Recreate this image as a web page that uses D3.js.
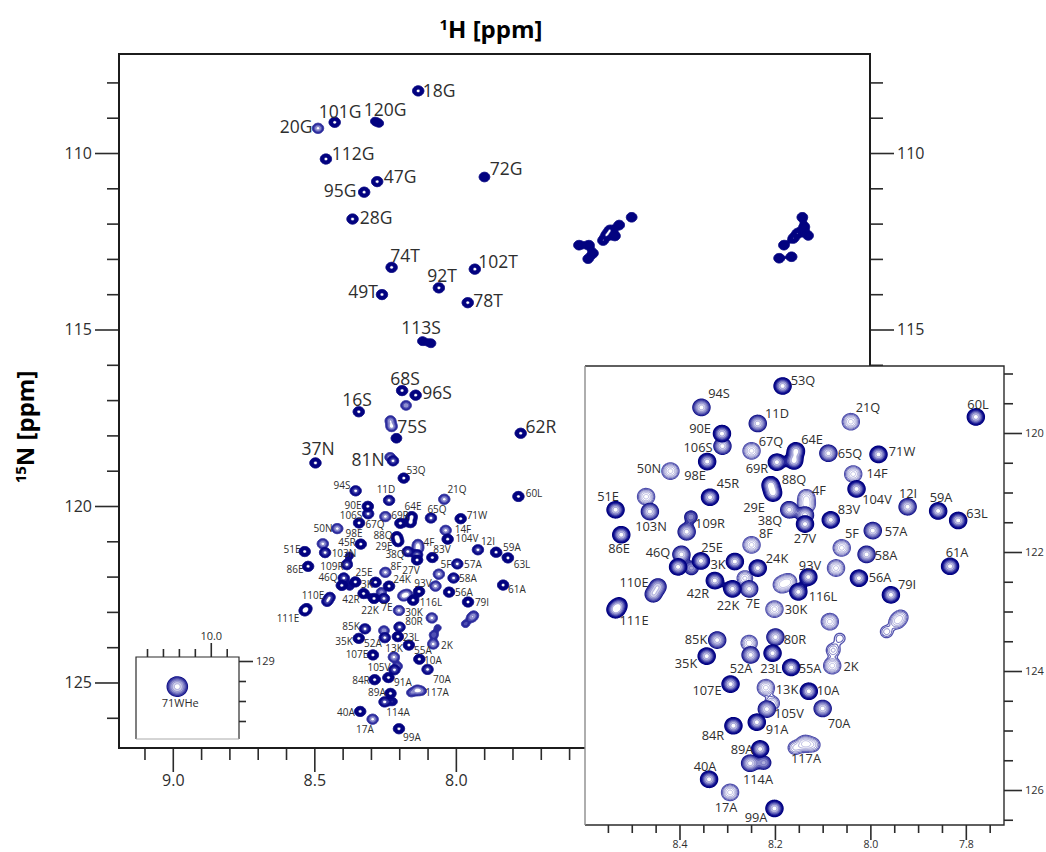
<!DOCTYPE html>
<html>
<head>
<meta charset="utf-8">
<script src="https://cdn.jsdelivr.net/npm/d3@7"></script>
<style>
body { margin: 0; background: #fff; }
svg { display: block; }
text { font-family: "Open Sans", sans-serif; fill: #2e2e2e; }
.title { font-weight: 700; fill: #000; font-size: 24px; }
</style>
</head>
<body>
<script>
/* peak table: 1H ppm, 15N ppm, relative height, contour shade (0 pale, 1 mid, 2 navy) */
var peakNames = [
  "18G","101G","120G","20G","112G","47G","95G","72G","28G","74T",
  "102T","92T","49T","78T","113S","68S","96S","16S","75S","62R",
  "37N","81N","53Q","94S","11D","90E","106S","67Q","64E","69R",
  "98E","50N","45R","88Q","38Q","29E","51E","103N","86E","4F",
  "27V","8F","109R","46Q","25E","3K","24K","42R","110E","22K",
  "7E","93V","116L","111E","30K","80R","23L","52A","85K","35K",
  "55A","2K","107E","13K","10A","105V","91A","70A","84R","117A",
  "89A","114A","40A","17A","99A","21Q","60L","65Q","71W","14F",
  "104V","12I","59A","63L","83V","57A","5F","58A","61A","56A","79I"];
var peakH = [
  8.133,8.428,8.286,8.487,8.459,8.278,8.324,7.899,8.365,8.227,
  7.933,8.060,8.261,7.958,8.118,8.190,8.142,8.343,8.210,7.771,
  8.496,8.222,8.184,8.354,8.236,8.311,8.310,8.249,8.160,8.196,
  8.342,8.419,8.336,8.209,8.204,8.170,8.534,8.462,8.522,8.134,
  8.137,8.249,8.385,8.396,8.355,8.284,8.236,8.326,8.455,8.289,
  8.254,8.130,8.151,8.534,8.201,8.199,8.205,8.251,8.321,8.343,
  8.166,8.080,8.293,8.219,8.129,8.217,8.238,8.100,8.287,8.137,
  8.231,8.252,8.338,8.294,8.201,8.041,7.779,8.088,7.983,8.036,
  8.029,7.922,7.858,7.816,8.083,7.995,8.060,8.008,7.833,8.024,7.957];
var peakN = [
  108.24,109.13,109.10,109.30,110.17,110.81,111.11,110.68,111.87,113.24,
  113.29,113.82,114.01,114.24,115.33,116.73,116.86,117.33,118.08,117.94,
  118.78,118.72,119.21,119.57,119.84,120.01,120.22,120.30,120.47,120.49,
  120.48,120.64,121.08,120.87,121.01,121.29,121.29,121.32,121.71,121.21,
  121.53,121.88,121.66,122.04,122.15,122.16,122.27,122.48,122.71,122.62,
  122.62,122.42,122.67,122.97,122.96,123.43,123.70,123.73,123.48,123.75,
  123.94,123.91,124.22,124.28,124.34,124.64,124.86,124.63,124.92,125.22,
  125.31,125.55,125.82,126.04,126.31,119.81,119.73,120.34,120.36,120.69,
  120.94,121.24,121.31,121.47,121.46,121.64,121.93,122.04,122.24,122.44,122.72];
var peakHeight = [
  1,1,.45,1,1,1,1,.8,1,1,
  1,1,1,1,.6,1,1,1,.8,1,
  1,1,1,1,1,1,1,1,1,1,
  1,1,1,1,1,1,1,1,1,1,
  1,1,1,1,1,1,1,1,.8,1,
  1,1,1,1,1,1,1,1,1,1,
  1,1,1,1,1,1,1,1,1,1,
  1,1,1,1,1,1,1,1,1,1,
  1,1,1,1,1,1,1,1,1,1,1];
var peakShade = [
  2,2,2,0,2,2,2,2,2,2,
  2,2,2,2,2,2,2,2,2,2,
  2,1,2,1,1,2,1,0,2,2,
  2,0,2,2,2,1,2,1,2,0,
  2,0,1,1,2,2,2,2,1,2,
  1,2,2,2,0,1,2,1,1,2,
  2,0,2,0,2,1,2,1,2,0,
  2,1,2,0,2,0,2,1,2,0,
  2,1,2,2,2,1,0,1,2,2,2];

/* unlabelled shoulders, tails and side-chain pairs */
var extraH = [
  8.270,8.088,8.176,8.227,8.231,8.232,8.156,8.470,8.137,8.134,
  8.376,8.403,8.375,8.445,8.263,8.172,8.186,8.254,8.078,8.064,
  8.085,7.966,7.945,7.936,8.072,8.206,8.158,8.120,8.223,8.526,
  7.379,7.423,7.456,7.438,7.480,7.468,7.565,7.530,7.515,7.533,
  6.776,6.769,6.793,6.755,6.808,6.841,6.858,6.814];
var extraN = [
  109.16,115.39,117.15,117.75,117.58,118.62,120.30,121.07,121.38,121.08,
  121.41,122.25,122.27,122.58,122.44,122.50,122.55,123.53,123.65,123.45,
  123.17,123.34,123.17,123.09,122.27,124.54,125.29,125.24,125.54,122.89,
  111.82,112.04,112.18,112.35,112.48,112.32,112.61,112.61,112.84,113.00,
  111.82,112.09,112.27,112.34,112.42,112.61,112.98,112.94];
var extraHeight = [
  .4,.6,.8,1,.8,.8,1,1,1,.8,
  .4,1,.5,.8,.7,.9,.9,.8,.5,.3,
  1,.4,.6,.5,1,.6,.5,.5,.5,.6,
  .8,.8,.8,.8,.8,.8,.8,.8,.7,.7,
  .8,.8,.8,.7,.8,.8,.8,.8];
var extraShade = [
  2,2,0,0,0,0,2,0,1,0,
  1,2,1,1,0,0,0,0,0,0,
  0,0,0,0,0,0,0,0,1,2,
  2,2,2,2,2,2,2,2,2,2,
  2,2,2,2,2,2,2,2];

/* tryptophan side chain, own small window */
var wHeNames = ["71WHe"];
var wHeH = [10.21];
var wHeN = [129.64];

var majorH = [9.0, 8.5, 8.0, 7.5, 7.0];
var minorH = [9.1,8.9,8.8,8.7,8.6,8.4,8.3,8.2,8.1,7.9,7.8,7.7,7.6,7.4,7.3,7.2,7.1,6.9,6.8,6.7,6.6];
var majorN = [110, 115, 120, 125];
var minorN = [108,109,111,112,113,114,116,117,118,119,121,122,123,124,126];
var zoomMajorH = [8.4, 8.2, 8.0, 7.8];
var zoomMinorH = [8.55,8.5,8.45,8.35,8.3,8.25,8.15,8.1,8.05,7.95,7.9,7.85,7.75];
var zoomMajorN = [120, 122, 124, 126];
var zoomMinorN = [119,119.5,120.5,121,121.5,122.5,123,123.5,124.5,125,125.5,126.5];
var wMajorH = [10.0];
var wMinorH = [10.4,10.3,10.2,10.1,9.9];
var wMajorN = [129];
var wMinorN = [129.5,130,130.5];

/* hand placed assignments, page pixels (label centres) */
var mainLabelAt = {
  "18G":[439,91],"101G":[340,112],"120G":[385,110],"20G":[296,127],"112G":[353,154],"72G":[506,169],"47G":[400,177],
  "95G":[340,191],"28G":[376,218],"74T":[405,256],"102T":[498,262],"92T":[442,276],"49T":[363,292],"78T":[488,301],
  "113S":[421,328],"68S":[405,379],"96S":[437,393],"16S":[357,400],"75S":[412,427],"62R":[541,427],"37N":[318,449],"81N":[368,460],
  "53Q":[416,470],"94S":[342,485],"11D":[386,489],"21Q":[457,489],"60L":[534,493],"90E":[353,505],"64E":[413,506],"65Q":[437,509],
  "106S":[351,515],"69R":[400,515],"71W":[477,515],"67Q":[375,524],"50N":[323,528],"14F":[463,529],"98E":[354,533],"88Q":[383,535],
  "104V":[467,538],"45R":[347,542],"29E":[384,546],"4F":[429,542],"12I":[488,541],"59A":[512,547],"51E":[292,549],"103N":[344,553],
  "38Q":[395,554],"83V":[442,549],"109R":[332,566],"86E":[295,569],"8F":[396,566],"5F":[446,564],"57A":[473,564],"63L":[522,564],
  "25E":[364,572],"27V":[411,570],"46Q":[328,577],"58A":[468,578],"3K":[367,584],"24K":[402,579],"93V":[423,583],"61A":[517,589],
  "110E":[313,595],"56A":[464,592],"42R":[351,599],"116L":[431,602],"79I":[482,602],"7E":[387,607],"22K":[370,610],"30K":[414,612],
  "111E":[288,618],"80R":[414,621],"85K":[351,626],"23L":[411,637],"35K":[344,641],"52A":[373,643],"2K":[447,645],"13K":[394,648],
  "55A":[423,650],"107E":[357,654],"10A":[433,660],"105V":[379,667],"70A":[442,679],"84R":[361,680],"91A":[403,682],"89A":[377,692],
  "117A":[437,692],"40A":[346,712],"114A":[398,712],"17A":[365,729],"99A":[412,737]};
var bigLabels = ["18G","101G","120G","20G","112G","72G","47G","95G","28G","74T","102T","92T","49T","78T","113S","68S","96S","16S","75S","62R","37N","81N"];
var zoomLabelAt = {
  "94S":[719,393],"53Q":[803,380],"11D":[777,413],"90E":[700,428],"106S":[698,447],"67Q":[771,441],"64E":[812,439],"98E":[695,475],
  "50N":[649,468],"69R":[757,468],"88Q":[794,479],"45R":[728,483],"51E":[608,496],"29E":[754,507],"38Q":[770,520],"103N":[651,526],
  "109R":[710,523],"8F":[766,533],"86E":[619,548],"27V":[805,538],"25E":[712,547],"46Q":[658,552],"3K":[718,564],"24K":[777,558],
  "93V":[810,565],"110E":[634,582],"42R":[698,593],"22K":[728,605],"7E":[753,603],"116L":[823,596],"4F":[819,490],"14F":[877,473],
  "21Q":[868,407],"60L":[978,404],"65Q":[850,453],"71W":[902,451],"104V":[877,499],"12I":[908,493],"59A":[941,497],"63L":[977,513],
  "83V":[849,509],"57A":[896,531],"5F":[852,533],"58A":[886,555],"61A":[957,552],"56A":[880,577],"79I":[907,584],"111E":[634,620],
  "30K":[796,609],"85K":[696,639],"80R":[795,639],"35K":[686,663],"52A":[741,668],"23L":[771,668],"55A":[810,668],"2K":[851,666],
  "107E":[707,690],"13K":[787,689],"10A":[828,690],"105V":[789,713],"70A":[839,723],"91A":[777,729],"84R":[713,735],"89A":[742,749],
  "117A":[806,758],"40A":[705,766],"114A":[758,779],"17A":[726,807],"99A":[756,817]};

var width = 1046,
    height = 852;

var svg = d3.select("body").append("svg")
    .attr("width", width)
    .attr("height", height);

var main = {left: 119, right: 870, top: 54, bottom: 748};
var mainX = d3.scaleLinear().domain([9.19, 6.537]).range([main.left, main.right]);
var mainY = d3.scaleLinear().domain([107.195, 126.856]).range([main.top, main.bottom]);

var zoomBox = {left: 585, right: 1004, top: 366, bottom: 825};
var zoomX = d3.scaleLinear().domain([8.598, 7.72]).range([zoomBox.left, zoomBox.right]);
var zoomY = d3.scaleLinear().domain([118.874, 126.588]).range([zoomBox.top, zoomBox.bottom]);

var wBox = {left: 136, right: 239, top: 657, bottom: 739};
var wX = d3.scaleLinear().domain([10.469, 9.823]).range([wBox.left, wBox.right]);
var wY = d3.scaleLinear().domain([128.9, 130.95]).range([wBox.top, wBox.bottom]);

var allPeaks = peakNames.map(function(n, i) {
  return {h: peakH[i], n: peakN[i], a: peakHeight[i], shade: peakShade[i]};
}).concat(extraH.map(function(h, i) {
  return {h: h, n: extraN[i], a: extraHeight[i], shade: extraShade[i]};
}));

var mainStyle = {
  sx: 2.9, sy: 2.6,
  levels: [.15, .3, .5, .82],
  colours: [
    ["#2a2a9c","#2a2a9c","#4a4aae","#6a6abc"],
    ["#0a0a88","#0a0a88","#1c1c92","#3030a0"],
    ["#030380","#030380","#030380","#0c0c88"]],
  fills: [
    ["#2a2a9c","#5050b2","#9090d0","#ffffff"],
    ["#0a0a88","#0a0a88","#3a3aa4","#ffffff"],
    ["#030380","#030380","#030380","#ffffff"]],
  widths: [1, 1, .8, .6]
};
var zoomStyle = {
  sx: 4.4, sy: 4.2,
  levels: [.15, .22, .32, .45, .62, .85],
  colours: [
    ["#4f4fac","#6666b8","#7c7cc2","#9090cc","#a2a2d6","#b0b0dc"],
    ["#16168a","#3636a0","#5656b0","#7272be","#8c8ccb","#a0a0d6"],
    ["#00007f","#0a0a8a","#20209a","#4a4aae","#7272c0","#9494d2"]],
  fills: [
    ["none","none","none","none","none","#ffffff"],
    ["#3c3ca2","#6262b6","#8c8ccb","#b0b0dc","#d0d0ea","#ffffff"],
    ["#0a0a88","#26269a","#5a5ab2","#9090cc","#bcbce0","#ffffff"]],
  widths: [1.3, 1.1, 1, .9, .9, .9]
};

/* sum of gaussians on a 1px grid, then real contour lines */
function drawSpectrum(box, x, y, peaks, style) {
  var w = Math.round(box.right - box.left),
      h = Math.round(box.bottom - box.top);
  var g = svg.append("g").attr("transform", "translate(" + box.left + "," + box.top + ")");
  var path = d3.geoPath();

  [0, 1, 2].forEach(function(shade) {
    var values = new Float64Array(w * h);
    peaks.filter(function(p) { return p.shade == shade; }).forEach(function(p) {
      var cx = x(p.h) - box.left,
          cy = y(p.n) - box.top,
          rx = Math.ceil(style.sx * 4),
          ry = Math.ceil(style.sy * 4);
      // peaks whose centre is off this window are not in it
      if (cx < 0 || cx > w || cy < 0 || cy > h) return;
      for (var j = Math.max(0, Math.floor(cy - ry)); j < Math.min(h, cy + ry); j++) {
        for (var i = Math.max(0, Math.floor(cx - rx)); i < Math.min(w, cx + rx); i++) {
          var dx = (i + .5 - cx) / style.sx,
              dy = (j + .5 - cy) / style.sy;
          values[j * w + i] += p.a * Math.exp(-(dx * dx + dy * dy) / 2);
        }
      }
    });
    var contours = d3.contours().size([w, h]).thresholds(style.levels)(values);
    g.selectAll("path.s" + shade)
      .data(contours)
      .enter().append("path")
      .attr("class", "s" + shade)
      .attr("d", path)
      .attr("fill", function(d, i) { return style.fills[shade][i]; })
      .attr("stroke", function(d, i) { return style.colours[shade][i]; })
      .attr("stroke-width", function(d, i) { return style.widths[i]; });
  });
}

function drawAxis(maker, scale, box, position, ticks, size, fontSize, labelled, format, pad) {
  var at = position == "bottom" ? [0, box.bottom] : position == "top" ? [0, box.top] : position == "left" ? [box.left, 0] : [box.right, 0];
  var axis = maker(scale).tickValues(ticks).tickSize(size).tickSizeOuter(0).tickPadding(pad === undefined ? 3 : pad);
  axis.tickFormat(labelled ? format : "");
  var g = svg.append("g")
    .attr("transform", "translate(" + at[0] + "," + at[1] + ")")
    .call(axis);
  g.select(".domain").remove();
  g.selectAll("line").attr("stroke", "#2b2b2b").attr("stroke-width", 1.6);
  g.selectAll("text").style("font-size", fontSize + "px").style("font-family", '"Open Sans", sans-serif').attr("fill", "#333");
  return g;
}

var fmtH = d3.format(".1f"), fmtN = d3.format("d");

/* main spectrum */
svg.append("rect")
  .attr("x", main.left).attr("y", main.top)
  .attr("width", main.right - main.left).attr("height", main.bottom - main.top)
  .attr("fill", "#fff");

drawSpectrum(main, mainX, mainY, allPeaks, mainStyle);

drawAxis(d3.axisBottom, mainX, main, "bottom", minorH, 12, 16, false);
drawAxis(d3.axisBottom, mainX, main, "bottom", majorH, 24, 16, true, fmtH);
drawAxis(d3.axisLeft, mainY, main, "left", minorN, 12, 16, false);
drawAxis(d3.axisLeft, mainY, main, "left", majorN, 24, 16, true, fmtN);
drawAxis(d3.axisRight, mainY, main, "right", minorN, 13, 16, false);
drawAxis(d3.axisRight, mainY, main, "right", majorN, 24, 16, true, fmtN);

svg.append("rect")
  .attr("x", main.left).attr("y", main.top)
  .attr("width", main.right - main.left).attr("height", main.bottom - main.top)
  .attr("fill", "none")
  .style("stroke", "#1c1c1c")
  .style("stroke-width", 2);

peakNames.forEach(function(name) {
  var at = mainLabelAt[name];
  if (!at) return;
  var big = bigLabels.indexOf(name) >= 0;
  svg.append("text")
    .attr("x", at[0]).attr("y", at[1])
    .attr("dy", ".36em")
    .attr("text-anchor", "middle")
    .style("font-size", big ? "17.5px" : "10px")
    .text(name);
});

/* small window with the Trp side chain */
svg.append("rect")
  .attr("x", wBox.left).attr("y", wBox.top)
  .attr("width", wBox.right - wBox.left).attr("height", wBox.bottom - wBox.top)
  .attr("fill", "#fff");

drawSpectrum(wBox, wX, wY, [{h: wHeH[0], n: wHeN[0], a: 1, shade: 1}], {
  sx: 5.2, sy: 5, levels: zoomStyle.levels, colours: zoomStyle.colours, fills: zoomStyle.fills, widths: zoomStyle.widths
});

drawAxis(d3.axisTop, wX, wBox, "top", wMinorH, 8, 11, false);
drawAxis(d3.axisTop, wX, wBox, "top", wMajorH, 14, 11, true, fmtH);
drawAxis(d3.axisRight, wY, wBox, "right", wMinorN, 7, 11, false);
drawAxis(d3.axisRight, wY, wBox, "right", wMajorN, 14, 11, true, fmtN);

svg.append("path")
  .attr("d", d3.line()([[wBox.left, wBox.bottom], [wBox.left, wBox.top], [wBox.right, wBox.top], [wBox.right, wBox.bottom]]))
  .attr("fill", "none").attr("stroke", "#2b2b2b").attr("stroke-width", 1.2);
svg.append("line")
  .attr("x1", wBox.left).attr("x2", wBox.right).attr("y1", wBox.bottom).attr("y2", wBox.bottom)
  .attr("stroke", "#aaa").attr("stroke-width", 1);

svg.append("text")
  .attr("x", wX(wHeH[0]) + 3).attr("y", wY(wHeN[0]) + 16)
  .attr("dy", ".36em")
  .attr("text-anchor", "middle")
  .style("font-size", "11px")
  .text(wHeNames[0]);

/* enlarged backbone region laid over the main spectrum */
svg.append("rect")
  .attr("x", zoomBox.left).attr("y", zoomBox.top)
  .attr("width", zoomBox.right - zoomBox.left).attr("height", zoomBox.bottom - zoomBox.top)
  .attr("fill", "#fff");

drawSpectrum(zoomBox, zoomX, zoomY, allPeaks, zoomStyle);

drawAxis(d3.axisBottom, zoomX, zoomBox, "bottom", zoomMinorH, 8, 11, false);
drawAxis(d3.axisBottom, zoomX, zoomBox, "bottom", zoomMajorH, 15, 10.5, true, fmtH, 1);
drawAxis(d3.axisRight, zoomY, zoomBox, "right", zoomMinorN, 9, 11, false);
drawAxis(d3.axisRight, zoomY, zoomBox, "right", zoomMajorN, 18, 11, true, fmtN);

svg.append("path")
  .attr("d", d3.line()([[zoomBox.left, zoomBox.bottom], [zoomBox.right, zoomBox.bottom], [zoomBox.right, zoomBox.top], [zoomBox.left, zoomBox.top]]))
  .attr("fill", "none").attr("stroke", "#2b2b2b").attr("stroke-width", 1.4);
svg.append("line")
  .attr("x1", zoomBox.left).attr("x2", zoomBox.left).attr("y1", zoomBox.top).attr("y2", zoomBox.bottom)
  .attr("stroke", "#8c8c8c").attr("stroke-width", 1.4);

peakNames.forEach(function(name) {
  var at = zoomLabelAt[name];
  if (!at) return;
  svg.append("text")
    .attr("x", at[0]).attr("y", at[1])
    .attr("dy", ".36em")
    .attr("text-anchor", "middle")
    .style("font-size", "12.8px")
    .text(name);
});

/* axis titles */
var hTitle = svg.append("text")
  .attr("class", "title")
  .attr("x", 491).attr("y", 38)
  .attr("text-anchor", "middle");
hTitle.append("tspan").attr("dy", -8).style("font-size", "15px").text("1");
hTitle.append("tspan").attr("dy", 8).text("H [ppm]");

var nTitle = svg.append("text")
  .attr("class", "title")
  .attr("transform", "translate(34,427) rotate(-90)")
  .attr("text-anchor", "middle");
nTitle.append("tspan").attr("dy", -8).style("font-size", "15px").text("15");
nTitle.append("tspan").attr("dy", 8).text("N [ppm]");
</script>
</body>
</html>
